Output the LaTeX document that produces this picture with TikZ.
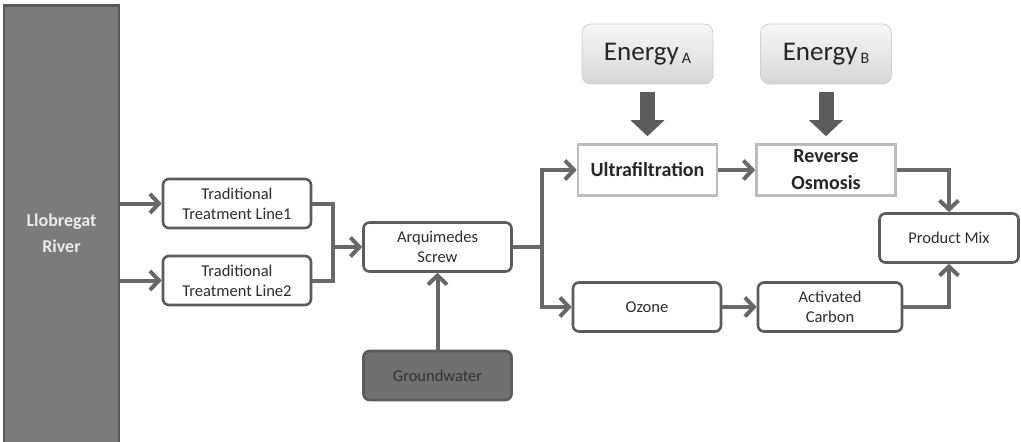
\documentclass[tikz,border=0pt]{standalone}
\usepackage{fontspec}
\setmainfont{Carlito}
\usepackage{xcolor}
\definecolor{riverfill}{RGB}{123,123,123}
\definecolor{riverline}{RGB}{88,88,88}
\definecolor{groundfill}{RGB}{112,112,112}
\definecolor{boxline}{RGB}{92,92,92}
\definecolor{flowgray}{RGB}{104,104,104}
\definecolor{lightline}{RGB}{188,188,188}
\definecolor{boxtext}{RGB}{45,45,45}
\usepackage{tikz}
\usetikzlibrary{arrows.meta}
\newcommand{\EnergyLabel}[1]{Energy\hspace{3pt}\raisebox{-3pt}{\fontsize{16}{16}\selectfont #1}}

\begin{document}
\begin{tikzpicture}[
  x=1pt, y=-1pt,
  % --- chart style: edit visual look here -----------------------------
  riverbox/.style={fill=riverfill, draw=riverline, line width=2.5pt,
                   text=white!92!black, font=\fontsize{18}{26}\selectfont\bfseries,
                   minimum width=115pt, minimum height=455pt, align=center},
  stage/.style={fill=white, draw=boxline, line width=2.6pt, rounded corners=6pt,
                text=boxtext, font=\fontsize{16.5}{20}\selectfont,
                minimum width=148pt, minimum height=49pt, inner sep=1pt,
                align=center},
  membrane/.style={fill=white, draw=lightline, line width=2.6pt,
                   text=black!85, font=\fontsize{20}{27}\selectfont\bfseries,
                   minimum width=139pt, minimum height=51pt, inner sep=1pt,
                   align=center},
  energy/.style={top color=gray!6, bottom color=gray!32, draw=gray!38,
                 line width=0.8pt, rounded corners=9pt, text=black!85,
                 font=\fontsize{27}{28}\selectfont,
                 minimum width=131pt, minimum height=60pt},
  link/.style={flowgray, line width=4pt},
  flow/.style={link, -{Straight Barb[length=9pt,width=19pt]}},
  push/.style={boxline, line width=15pt, -{Triangle[length=16pt,width=33pt]}},
  % ---------------------------------------------------------------------
]
  \useasboundingbox (0,0) rectangle (1021,442);

  % Source
  \node[riverbox] (river) at (61.5,233) {Llobregat\\River};

  % Traditional lines
  \node[stage] (line1) at (237,203.5) {Traditional\\Treatment Line1};
  \node[stage] (line2) at (237,280.5) {Traditional\\Treatment Line2};

  % Screw and groundwater
  \node[stage] (screw) at (437.5,247) {Arquimedes\\Screw};
  \node[stage, fill=groundfill, text=black!80] (ground) at (437.5,375.5) {Groundwater};

  % Membrane branch
  \node[energy] (energyA) at (647.5,54) {\EnergyLabel{A}};
  \node[energy] (energyB) at (826,54)   {\EnergyLabel{B}};
  \node[membrane] (uf) at (647.5,170) {Ultrafiltration};
  \node[membrane] (ro) at (826,170)   {Reverse\\Osmosis};

  % Ozone branch
  \node[stage] (ozone)  at (647,307) {Ozone};
  \node[stage, minimum width=144pt] (carbon) at (830,307) {Activated\\Carbon};

  % Output
  \node[stage, minimum width=139pt] (mix) at (949,238) {Product Mix};

  % Connectors
  \coordinate (merge) at (333,247);
  \coordinate (split) at (542,247);

  \draw[flow] (river.east |- line1) -- (line1);
  \draw[flow] (river.east |- line2) -- (line2);
  \draw[link] (line1.east) -| (merge) |- (line2.east);
  \draw[flow] (merge) -- (screw);
  \draw[flow] (ground) -- (screw);

  \draw[link] (screw) -- (split);
  \draw[flow] (split) |- (uf);
  \draw[flow] (split) |- (ozone);

  \draw[push] ([yshift=-8pt]energyA.south) -- ([yshift=7pt]uf.north);
  \draw[push] ([yshift=-8pt]energyB.south) -- ([yshift=7pt]ro.north);

  \draw[flow] (uf) -- (ro);
  \draw[flow] (ozone) -- (carbon);
  \draw[flow] (ro) -| (mix);
  \draw[flow] (carbon) -| (mix);
\end{tikzpicture}
\end{document}
